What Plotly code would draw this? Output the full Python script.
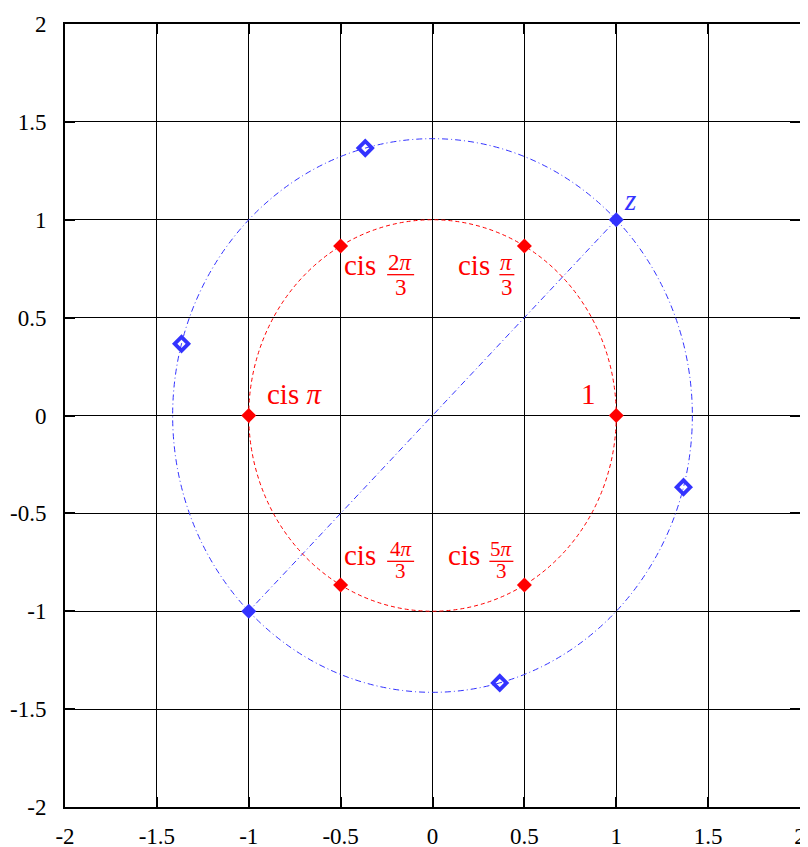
import plotly.graph_objects as go

# ---- data ----
tick_vals = [-2, -1.5, -1, -0.5, 0, 0.5, 1, 1.5, 2]
tick_text = ["-2", "-1.5", "-1", "-0.5", "0", "0.5", "1", "1.5", "2"]

roots_x = [1, 0.5, -0.5, -1, -0.5, 0.5]
roots_y = [0, 0.866, 0.866, 0, -0.866, -0.866]

z_x = [1, -1]
z_y = [1, -1]

zroots_x = [-0.366, -1.366, 0.366, 1.366]
zroots_y = [1.366, 0.366, -1.366, -0.366]

unit_radius = 1.0
z_radius = 1.4142

RED = "#ff0000"
BLUE = "#3333ff"
SERIF = "Liberation Serif"

fig = go.Figure()

# circles through library scales
fig.add_shape(type="circle", xref="x", yref="y",
              x0=-unit_radius, y0=-unit_radius, x1=unit_radius, y1=unit_radius,
              line=dict(color=RED, width=1, dash="4px,3px"), layer="above")
fig.add_shape(type="circle", xref="x", yref="y",
              x0=-z_radius, y0=-z_radius, x1=z_radius, y1=z_radius,
              line=dict(color=BLUE, width=1, dash="6px,3px,1px,3px"), layer="above")

# line z to -z
fig.add_trace(go.Scatter(x=z_x, y=z_y, mode="lines",
                         line=dict(color=BLUE, width=1, dash="6px,3px,1px,3px"),
                         hoverinfo="skip", showlegend=False))

fig.add_trace(go.Scatter(x=roots_x, y=roots_y, mode="markers",
                         marker=dict(symbol="diamond", size=11.5, color=RED,
                                     line=dict(width=0)),
                         showlegend=False))
fig.add_trace(go.Scatter(x=zroots_x, y=zroots_y, mode="markers",
                         marker=dict(symbol="diamond-open", size=10.5, color=BLUE,
                                     line=dict(width=3.8, color=BLUE)),
                         showlegend=False))
fig.add_trace(go.Scatter(x=z_x, y=z_y, mode="markers",
                         marker=dict(symbol="diamond", size=11.5, color=BLUE,
                                     line=dict(width=0)),
                         showlegend=False))

BIG = dict(family=SERIF, size=29, color=RED)
SMALL = dict(family=SERIF, size=23, color=RED)
SMALL_B = dict(family=SERIF, size=21, color=RED)


def ann(x, y, text, font, xanchor, xs, ys):
    fig.add_annotation(x=x, y=y, xref="x", yref="y", text=text, showarrow=False,
                       font=font, xanchor=xanchor, yanchor="middle",
                       xshift=xs, yshift=ys, borderpad=0)


def frac(x, y, num, cx, ny, by, dy, half, font):
    ann(x, y, num, font, "center", cx, ny)
    ann(x, y, "3", font, "center", cx, dy)
    fig.add_shape(type="line", xref="x", yref="y", xsizemode="pixel", ysizemode="pixel",
                  xanchor=x, yanchor=y, x0=cx - half, x1=cx + half, y0=by, y1=by,
                  line=dict(color=RED, width=1.3))


# cis 2pi/3  (point index 2)
ann(roots_x[2], roots_y[2], "cis", BIG, "left", 2, -19)
frac(roots_x[2], roots_y[2], "2<i>π</i>", 60, -17, -28.7, -42, 13.5, SMALL)
# cis pi/3 (index 1)
ann(roots_x[1], roots_y[1], "cis", BIG, "right", -33, -19)
frac(roots_x[1], roots_y[1], "<i>π</i>", -17.5, -17, -28.7, -42, 7.5, SMALL)
# cis 4pi/3 (index 4)
ann(roots_x[4], roots_y[4], "cis", BIG, "left", 2, 30.5)
frac(roots_x[4], roots_y[4], "4<i>π</i>", 60, 36, 23.7, 14, 13.5, SMALL_B)
# cis 5pi/3 (index 5)
ann(roots_x[5], roots_y[5], "cis", BIG, "right", -43, 30.5)
frac(roots_x[5], roots_y[5], "5<i>π</i>", -23, 36, 23.7, 14, 12, SMALL_B)
# cis pi (index 3)
ann(roots_x[3], roots_y[3], "cis <i>π</i>", BIG, "left", 17, 22)
# 1 (index 0)
ann(roots_x[0], roots_y[0], "1", BIG, "center", -28, 22)
# z
ann(z_x[0], z_y[0], "<i>z</i>", dict(family=SERIF, size=29, color=BLUE), "center", 14, 20)

axis_common = dict(
    tickvals=tick_vals, ticktext=tick_text, range=[-2, 2],
    showgrid=True, gridcolor="#000000", gridwidth=1,
    zeroline=False, showline=True, linecolor="#000000", linewidth=2, mirror="ticks",
    ticks="inside", ticklen=10, tickwidth=1.5, tickcolor="#000000",
    tickfont=dict(family=SERIF, size=23, color="#000000"),
    fixedrange=True, automargin=False,
)

# page body has an 8px margin, so the figure is 8px smaller than the window
fig.update_layout(
    width=800, height=839,
    margin=dict(l=57, r=8, t=16, b=40),
    paper_bgcolor="white", plot_bgcolor="white",
    font=dict(family=SERIF),
    xaxis=dict(**axis_common, ticklabelstandoff=7),
    yaxis=dict(**axis_common, ticklabelstandoff=12),
    showlegend=False,
)

fig.write_html("out.html")
